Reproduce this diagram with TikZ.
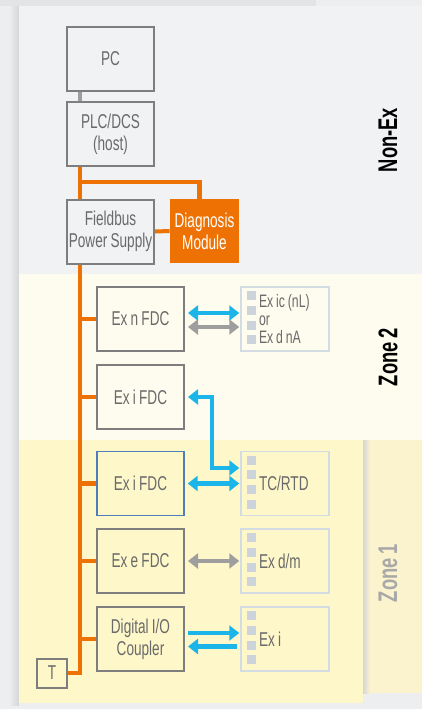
\documentclass[tikz,border=0pt]{standalone}
\usepackage{fontspec}
\usepackage{tikz}
\usepackage{xcolor}
\usetikzlibrary{positioning,arrows.meta,calc}
\setmainfont{Liberation Sans}
\newfontfamily\cond[FakeStretch=0.68,WordSpace=0.85]{Liberation Sans}
\definecolor{exorange}{HTML}{EE7203}
\definecolor{exblue}{HTML}{1BB5EA}
\definecolor{exgray}{HTML}{9E9E9E}
\definecolor{boxgray}{HTML}{7E7E7E}
\definecolor{textgray}{HTML}{6A6A6A}
\definecolor{fieldedge}{HTML}{D3DBE3}
\definecolor{pinfill}{HTML}{CCD3DB}
\definecolor{edgeblue}{HTML}{4F7DB8}
\definecolor{outerbg}{HTML}{EDEEF0}
\definecolor{topbar}{HTML}{E3E4E6}
\definecolor{shadowgray}{HTML}{D5D6D8}
\definecolor{nonexbg}{HTML}{F1F2F4}
\definecolor{zonetwobg}{HTML}{FEFCEE}
\definecolor{zoneonebg}{HTML}{FEF7CA}
\definecolor{zonelblbg}{HTML}{FBF3CE}

\begin{document}
\begin{tikzpicture}[x=0.5pt,y=-0.5pt,>={Triangle[length=5pt,width=7.5pt]},
    every node/.style={font=\cond\fontsize{10}{11}\selectfont}]
    \tikzstyle{dev}=[rectangle,draw=boxgray,line width=1pt,text=textgray,
                     minimum width=43.5pt,minimum height=32pt,inner sep=0pt,align=center];
    \tikzstyle{diagbox}=[rectangle,fill=exorange,text=white,
                     minimum width=34.5pt,minimum height=32pt,inner sep=0pt,align=center];
    \tikzstyle{field}=[rectangle,draw=fieldedge,line width=0.75pt,text=textgray,
                     minimum width=44pt,minimum height=32pt,inner xsep=9pt,inner ysep=0pt,
                     text width=26pt,align=flush left];
    \tikzstyle{bus}=[draw=exorange,line width=2.4pt];
    \tikzstyle{sig}=[draw=exblue,line width=2.2pt,shorten <=1.5pt,shorten >=0.5pt];
    \tikzstyle{sigg}=[draw=exgray,line width=2.2pt,shorten <=1.5pt,shorten >=0.5pt];
    \tikzstyle{zonelbl}=[rotate=90,font=\cond\bfseries\fontsize{13.5}{14}\selectfont];
    \useasboundingbox (0,0) rectangle (422,709);
    % --- zones ---
    \fill[outerbg] (0,0) rectangle (422,709);
    \fill[topbar] (0,0) rectangle (316,6);
    \shade[left color=outerbg,right color=shadowgray] (9,6) rectangle (19,705);
    \fill[nonexbg] (19,6) rectangle (422,274);
    \fill[zonetwobg] (19,274) rectangle (422,440);
    \fill[zoneonebg] (19,440) rectangle (363,703);
    \shade[left color=shadowgray,right color=zonelblbg] (363,440) rectangle (370,693);
    \fill[zonelblbg] (370,440) rectangle (422,693);
    \node[zonelbl] (nonex) at (388,140) {Non-Ex};
    \node[zonelbl] (ztwo)  at (388,357) {Zone 2};
    \node[zonelbl,text=exgray!90] (zone) at (388,573) {Zone 1};
    % --- host side ---
    \node[dev]     (pc)   at (110.5,58.5) {PC};
    \node[dev]     (plc)  at (110.5,134)  {PLC/DCS\\(host)};
    \node[dev]     (fps)  at (110.5,231.5){Fieldbus\\Power Supply};
    \node[diagbox] (diag) at (204.5,231)  {Diagnosis\\Module};
    \node[dev,minimum width=15pt,minimum height=14.5pt] (term) at (52,673) {T};
    % --- field devices ---
    \node[dev]  (exn)  at (140.5,319)   {Ex n FDC};
    \node[dev]  (exi2) at (140.5,397)   {Ex i FDC};
    \node[dev,draw=edgeblue,line width=0.7pt] (exi1) at (140.5,483.5) {Ex i FDC};
    \node[dev]  (exe)  at (140.5,561)   {Ex e FDC};
    \node[dev]  (dio)  at (140.5,639)   {Digital I/O\\Coupler};
    \node[field,font=\cond\fontsize{9}{9}\selectfont] (fnl) at (285,319) {Ex~ic~(nL)\\or\\Ex~d~nA};
    \node[field] (tc)   at (285,483.5) {TC/RTD};
    \node[field] (exd)  at (285,561)   {Ex~d/m};
    \node[field] (exiv) at (285,639)   {Ex~i};
    \foreach \n in {fnl,tc,exd,exiv}
      \foreach \k in {0,...,3}
        \fill[pinfill] ([xshift=3.5pt,yshift={-2.5pt-7.35pt*\k}]\n.north west) rectangle ++(4.5pt,-4.5pt);
    % --- bus ---
    \coordinate (bus)    at (80,0);
    \coordinate (tap)    at (80,182);
    \coordinate (busend) at (80,673);
    \coordinate (jog)    at (212,468);
    \draw[exgray,line width=2.4pt] (pc.south -| bus) -- (plc.north -| bus);
    \draw[bus] (plc.south -| bus) -- (fps.north -| bus);
    \draw[bus,line width=2.2pt] (tap) -| ([xshift=-2.5pt]diag.north);
    \draw[bus,line width=2pt] (fps.east) -- (diag.west);
    \draw[bus] (fps.south -| bus) -- (busend) -- (term.east);
    \foreach \b in {exn,exi2,exi1,exe,dio}
      \draw[bus] (bus |- \b.west) -- (\b.west);
    % --- signals ---
    \draw[sig,<->]  ([yshift=3pt]exn.east) -- ([yshift=3pt]fnl.west);
    \draw[sigg,<->] ([yshift=-4pt]exn.east) -- ([yshift=-4pt]fnl.west);
    \draw[sig,<->]  (exi2.east) -| (jog) -- (jog -| tc.west);
    \draw[sig,<->]  (exi1.east) -- (tc.west);
    \draw[sigg,<->] (exe.east) -- (exd.west);
    \draw[sig,->]   ([yshift=3pt]dio.east) -- ([yshift=3pt]exiv.west);
    \draw[sig,<-]   ([yshift=-3.75pt]dio.east) -- ([yshift=-3.75pt,xshift=-1pt]exiv.west);
  \end{tikzpicture}
\end{document}
